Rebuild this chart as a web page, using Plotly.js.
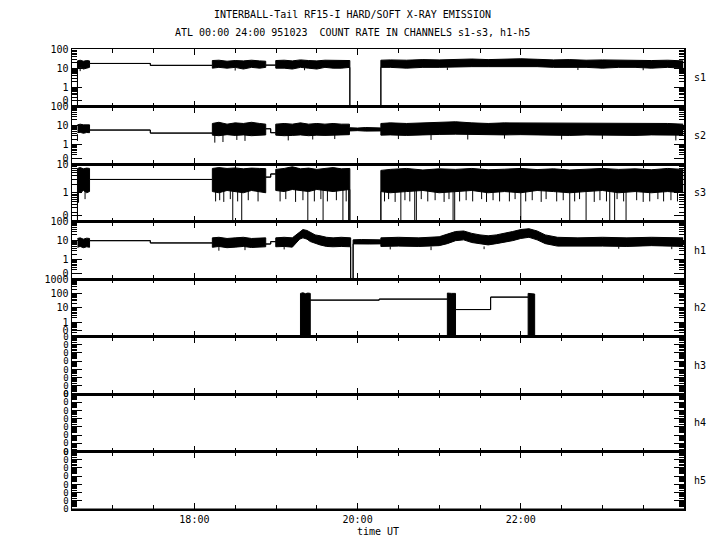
<!DOCTYPE html>
<html>
<head>
<meta charset="utf-8">
<script src="https://cdn.plot.ly/plotly-3.0.1.min.js"></script>
<style>html,body{margin:0;padding:0;background:#fff;}#chart{width:720px;height:550px;}</style>
</head>
<body>
<div id="chart"></div>
<script>
// ---------------- DATA (time in hours UT, count rates) ----------------
const titleLine1 = "INTERBALL-Tail RF15-I HARD/SOFT X-RAY EMISSION";
const titleLine2 = "ATL 00:00 24:00 951023  COUNT RATE IN CHANNELS s1-s3, h1-h5";
const channelNames = ["s1", "s2", "s3", "h1", "h2", "h3", "h4", "h5"];
const timeRange = [16.5, 24.0];
const xTickVals = [18, 20, 22];
const xTickText = ["18:00", "20:00", "22:00"];

// tick labels of the y axes ("0" is written just above the bottom of each panel)
const ticks3dec = [0.2, 1, 10, 100];
const ticks3decText = ["0", "1", "10", "100"];
const ticks2dec = [0.16, 1, 10];
const ticks2decText = ["0", "1", "10"];
const ticks4dec = [0.26, 1, 10, 100, 1000];
const ticks4decText = ["0", "1", "10", "100", "1000"];
const ticksEmpty = [0.1, 1, 10, 100, 1e3, 1e4, 1e5, 1e6];
const ticksEmptyText = ["0", "0", "0", "0", "0", "0", "0", "0"];

// s1 : envelope (upper / lower) of the noisy count rate
const s1T  = [16.567,16.567,16.60,16.64,16.68,16.715,16.715,17.46,17.46,18.22,18.22,18.30,18.40,18.50,18.60,18.70,18.80,18.874,18.874,18.997,18.997,19.10,19.20,19.30,19.40,19.50,19.60,19.70,19.80,19.905,19.905,20.285,20.285,20.40,20.60,20.80,21.00,21.20,21.40,21.60,21.80,22.00,22.20,22.40,22.60,22.80,23.00,23.20,23.40,23.60,23.80,23.99];
const s1Hi = [0.1,24,26,23,25,24,17.6,17.6,14,14,25,26,23,25,24,26,24,23,14.4,14.4,25,26,24,27,25,24,26,25,26,25,0.1,0.1,26,27,26,28,27,29,30,28,30,31,29,27,28,26,27,26,27,25,26,24];
const s1Lo = [0.1,9,11,9,10,11,17.6,17.6,14,14,10,11,10,11,9,11,10,11,14.4,14.4,10,10,9,11,10,9,11,10,10,11,0.1,0.1,11,11,10,11,11,12,12,12,12,13,12,11,11,11,10,11,11,10,11,10];
const s1SpikeT = [16.60,18.50,19.35,21.10,22.70,23.50];
const s1SpikeV = [7,7.5,7.8,8,8,7.8];
const s1SpikeFrom = 11;

// s2
const s2T  = [16.567,16.60,16.64,16.68,16.715,16.715,17.46,17.46,18.22,18.22,18.30,18.40,18.50,18.60,18.70,18.80,18.874,18.874,18.935,18.935,18.997,18.997,19.10,19.20,19.30,19.40,19.50,19.60,19.70,19.80,19.90,19.90,20.00,20.10,20.20,20.285,20.285,20.40,20.60,20.80,21.00,21.20,21.40,21.60,21.80,22.00,22.20,22.40,22.60,22.80,23.00,23.20,23.40,23.60,23.80,23.99];
const s2Hi = [11,12,11,11.5,11,5.9,5.9,4.1,4.1,13,15,12,14,13,15,13,12,6.9,6.9,4.3,4.3,12,13,12,14,12,13,12,13,12,12,7.8,7.5,8,7.8,7.6,13,14,13,14,15,16,14,13,14,14,13,14,13,14,13,14,13,14,13,12];
const s2Lo = [4.3,4.5,4.0,4.4,4.3,5.9,5.9,4.1,4.1,3.2,3.0,3.4,3.1,3.3,3.0,3.2,3.3,6.9,6.9,4.3,4.3,3.2,3.0,3.1,3.3,3.0,3.2,3.1,3.2,3.3,3.4,5.3,5.5,5.2,5.4,5.3,3.2,3.3,3.1,3.4,3.5,3.6,3.4,3.3,3.3,3.4,3.2,3.3,3.1,3.3,3.2,3.3,3.1,3.3,3.2,3.2];
const s2SpikeT = [16.567,18.25,18.35,18.52,18.62,19.15,19.45,19.72,20.50,20.90,21.35,21.80,22.50,23.00,23.90];
const s2SpikeV = [1.6,1.3,1.4,1.8,1.6,1.7,1.9,2.0,2.0,1.8,1.9,2.1,1.9,2.0,1.7];
const s2SpikeFrom = 3.6;

// s3
const s3T  = [16.567,16.567,16.60,16.64,16.68,16.715,16.715,18.22,18.22,18.30,18.40,18.50,18.60,18.70,18.80,18.874,18.874,18.935,18.935,18.997,18.997,19.10,19.20,19.30,19.40,19.50,19.60,19.70,19.80,19.905,19.905,20.285,20.285,20.40,20.60,20.80,21.00,21.20,21.40,21.60,21.80,22.00,22.20,22.40,22.60,22.80,23.00,23.20,23.40,23.60,23.80,23.99];
const s3Hi = [0.1,7,7.5,6.8,7.2,7,2.9,2.9,7,7.5,7,7.3,6.8,7.2,7,6.9,3.5,3.5,4.5,4.5,6.5,7,8,6.8,7.2,6.5,7,7.5,6.8,7,0.1,0.1,6,6.5,7,6.2,6.8,6.5,7,6.3,6.6,7,6.4,6.8,6.2,6.6,7,6.5,6.8,6.3,7,6.5];
const s3Lo = [0.1,1.1,1.0,1.2,1.0,1.1,2.9,2.9,1.1,1.0,1.2,1.1,1.0,1.2,1.1,1.0,3.5,3.5,4.5,4.5,1.2,1.1,1.3,1.2,1.1,1.3,1.2,1.1,1.2,1.3,0.1,0.1,1.1,1.0,1.1,1.2,1.0,1.1,1.2,1.0,1.1,1.0,1.2,1.1,1.0,1.1,1.2,1.0,1.1,1.0,1.1,1.0];
const s3SpikeT = [16.58,16.66,18.26,18.31,18.36,18.44,18.53,18.66,18.78,19.05,19.12,19.24,19.33,19.47,19.55,19.63,19.74,19.86,20.33,20.38,20.46,20.58,20.64,20.78,20.86,20.95,21.06,21.12,21.25,21.33,21.41,21.52,21.58,21.66,21.74,21.86,21.93,22.06,22.14,22.25,22.31,22.44,22.52,22.66,22.72,22.90,22.97,23.05,23.18,23.26,23.42,23.50,23.58,23.68,23.75,23.84,23.92,
                  18.47,18.58,19.39,19.577,19.82,19.89,20.53,20.70,20.72,21.17,21.19,22.00,22.60,22.80,23.09,23.15,23.29];
const s3SpikeV = [0.45,0.6,0.5,0.55,0.48,0.6,0.5,0.55,0.5,0.5,0.6,0.48,0.55,0.5,0.6,0.5,0.55,0.5,0.5,0.6,0.48,0.55,0.5,0.6,0.5,0.55,0.48,0.6,0.5,0.55,0.5,0.6,0.48,0.55,0.5,0.5,0.6,0.5,0.55,0.48,0.6,0.5,0.55,0.5,0.6,0.48,0.55,0.5,0.6,0.5,0.55,0.48,0.5,0.6,0.5,0.55,0.5,
                  0.1,0.1,0.1,0.1,0.1,0.1,0.1,0.1,0.1,0.1,0.1,0.1,0.1,0.1,0.1,0.1,0.1];
const s3SpikeFrom = 1.6;

// h1
const h1T  = [16.567,16.60,16.64,16.68,16.715,16.715,17.46,17.46,18.22,18.22,18.30,18.40,18.50,18.60,18.70,18.80,18.874,18.874,18.935,18.935,18.997,18.997,19.10,19.20,19.29,19.33,19.38,19.42,19.48,19.54,19.62,19.70,19.80,19.915,19.915,19.945,19.945,20.05,20.15,20.285,20.285,20.50,20.75,21.00,21.10,21.20,21.30,21.40,21.50,21.60,21.70,21.80,21.90,22.00,22.10,22.20,22.30,22.45,22.70,23.00,23.30,23.60,23.99];
const h1Hi = [13,14,12,13.5,13,10,10,7.6,7.6,14,15,13,14,15,13,14,14,6.7,6.7,8.9,8.9,14,15,14,30,38,34,28,20,18,15,14,15,14,0.1,0.1,11,11.5,11,11,14,15,14,16,22,30,32,24,20,18,20,24,30,38,42,32,20,15,14,15,14,15,14];
const h1Lo = [4.5,5,4.3,4.8,4.5,10,10,7.6,7.6,4.5,5,4.3,4.6,5,4.4,4.6,4.8,6.7,6.7,8.9,8.9,4.8,5,4.6,12,14,12,9,7,6,5,4.8,5,4.8,0.1,0.1,6.8,7,6.7,6.8,5,5.2,5,5.5,7,10,11,8,7,6,7,8,10,13,15,11,7,5.2,5,5.2,5,5.5,5];
const h1SpikeT = [18.30,18.62,19.10,20.40,20.90,21.55,23.20,23.85];
const h1SpikeV = [3.0,3.2,3.5,3.5,3.2,3.6,3.8,3.6];
const h1SpikeFrom = 5;

// h2
const h2T  = [16.5,19.30,19.30,19.33,19.36,19.39,19.42,19.42,20.265,20.265,21.10,21.10,21.15,21.20,21.20,21.63,21.63,22.09,22.09,22.13,22.17,22.17,24.0];
const h2Hi = [0.1,0.1,100,110,95,105,100,34,34,40,40,105,100,100,7.5,7.5,55,55,100,95,90,0.1,0.1];
const h2Lo = [0.1,0.1,0.1,0.1,0.1,0.1,0.1,34,34,40,40,0.1,0.1,0.1,7.5,7.5,55,55,0.1,0.1,0.1,0.1,0.1];

// h3, h4, h5 : no counts during the interval (zero rate)
const h3T = [16.5, 24.0], h3V = [0.1, 0.1];
const h4T = [16.5, 24.0], h4V = [0.1, 0.1];
const h5T = [16.5, 24.0], h5V = [0.1, 0.1];

// ---------------- BUILD ----------------
const FONT = {family: "DejaVu Sans Mono, Liberation Mono, monospace", size: 10, color: "#000"};
const FONT_SMALL = {family: "DejaVu Sans Mono, Liberation Mono, monospace", size: 9, color: "#000"};
const channels = [
  {t: s1T, hi: s1Hi, lo: s1Lo, sT: s1SpikeT, sV: s1SpikeV, sF: s1SpikeFrom, range: [-1, 2], tv: ticks3dec, tt: ticks3decText},
  {t: s2T, hi: s2Hi, lo: s2Lo, sT: s2SpikeT, sV: s2SpikeV, sF: s2SpikeFrom, range: [-1, 2], tv: ticks3dec, tt: ticks3decText},
  {t: s3T, hi: s3Hi, lo: s3Lo, sT: s3SpikeT, sV: s3SpikeV, sF: s3SpikeFrom, range: [-1, 1], tv: ticks2dec, tt: ticks2decText},
  {t: h1T, hi: h1Hi, lo: h1Lo, sT: h1SpikeT, sV: h1SpikeV, sF: h1SpikeFrom, range: [-1, 2], tv: ticks3dec, tt: ticks3decText},
  {t: h2T, hi: h2Hi, lo: h2Lo, range: [-1, 3], tv: ticks4dec, tt: ticks4decText},
  {t: h3T, hi: h3V, range: [-1, 6], tv: ticksEmpty, tt: ticksEmptyText, small: true},
  {t: h4T, hi: h4V, range: [-1, 6], tv: ticksEmpty, tt: ticksEmptyText, small: true},
  {t: h5T, hi: h5V, range: [-1, 6], tv: ticksEmpty, tt: ticksEmptyText, small: true}
];

const n = channels.length;
const traces = [];
const layout = {
  width: 720, height: 550,
  margin: {l: 72, r: 36, t: 49, b: 41},
  paper_bgcolor: "#fff", plot_bgcolor: "#fff",
  showlegend: false,
  font: FONT,
  annotations: []
};

channels.forEach((c, i) => {
  const sfx = i === 0 ? "" : String(i + 1);
  const xa = "x" + sfx, ya = "y" + sfx;
  layout["xaxis" + sfx] = {
    domain: [0, 1], anchor: ya, range: timeRange,
    showline: true, linecolor: "#000", linewidth: 1.5, mirror: "ticks",
    ticks: "inside", ticklen: 6, tickwidth: 1, tickcolor: "#000",
    tickmode: "array", tickvals: xTickVals, ticktext: xTickText,
    showticklabels: i === n - 1, tickfont: FONT,
    showgrid: false, zeroline: false, fixedrange: true,
    minor: {ticks: "inside", ticklen: 4, tickwidth: 1, tickcolor: "#000", tickmode: "linear", tick0: timeRange[0], dtick: 0.5, showgrid: false}
  };
  if (i === n - 1) layout["xaxis" + sfx].title = {text: "time UT", font: FONT, standoff: 4};
  layout["yaxis" + sfx] = {
    domain: [(n - 1 - i) / n, (n - i) / n], anchor: xa,
    type: "log", range: c.range,
    tickmode: "array", tickvals: c.tv, ticktext: c.tt, tickfont: c.small ? FONT_SMALL : FONT,
    ticks: "inside", ticklen: 10, tickwidth: 1, tickcolor: "#000",
    showline: true, linecolor: "#000", linewidth: 1.5, mirror: "ticks",
    showgrid: false, zeroline: false, fixedrange: true,
    minor: {ticks: "inside", ticklen: 5, tickwidth: 1, tickcolor: "#000", dtick: "D1", showgrid: false}
  };
  layout.annotations.push({
    xref: "paper", x: 1.026, yref: ya + " domain", y: 0.5,
    text: channelNames[i], showarrow: false, font: FONT, xanchor: "center", yanchor: "middle"
  });
  traces.push({x: c.t, y: c.hi, xaxis: xa, yaxis: ya, mode: "lines", line: {color: "#000", width: 1}, hoverinfo: "skip"});
  if (c.lo) {
    traces.push({x: c.t, y: c.lo, xaxis: xa, yaxis: ya, mode: "lines", line: {color: "#000", width: 1}, fill: "tonexty", fillcolor: "#000", hoverinfo: "skip"});
  }
  if (c.sT) {
    const sx = [], sy = [];
    c.sT.forEach((t, k) => { sx.push(t, t, null); sy.push(c.sF, c.sV[k], null); });
    traces.push({x: sx, y: sy, xaxis: xa, yaxis: ya, mode: "lines", line: {color: "#000", width: 1}, connectgaps: false, hoverinfo: "skip"});
  }
});

layout.annotations.push({xref: "paper", yref: "paper", x: 0.4587, y: 1.076, yanchor: "middle", text: titleLine1, showarrow: false, font: FONT});
layout.annotations.push({xref: "paper", yref: "paper", x: 0.4587, y: 1.0348, yanchor: "middle", text: titleLine2, showarrow: false, font: FONT});

Plotly.newPlot("chart", traces, layout, {displayModeBar: false, staticPlot: true});
</script>
</body>
</html>
